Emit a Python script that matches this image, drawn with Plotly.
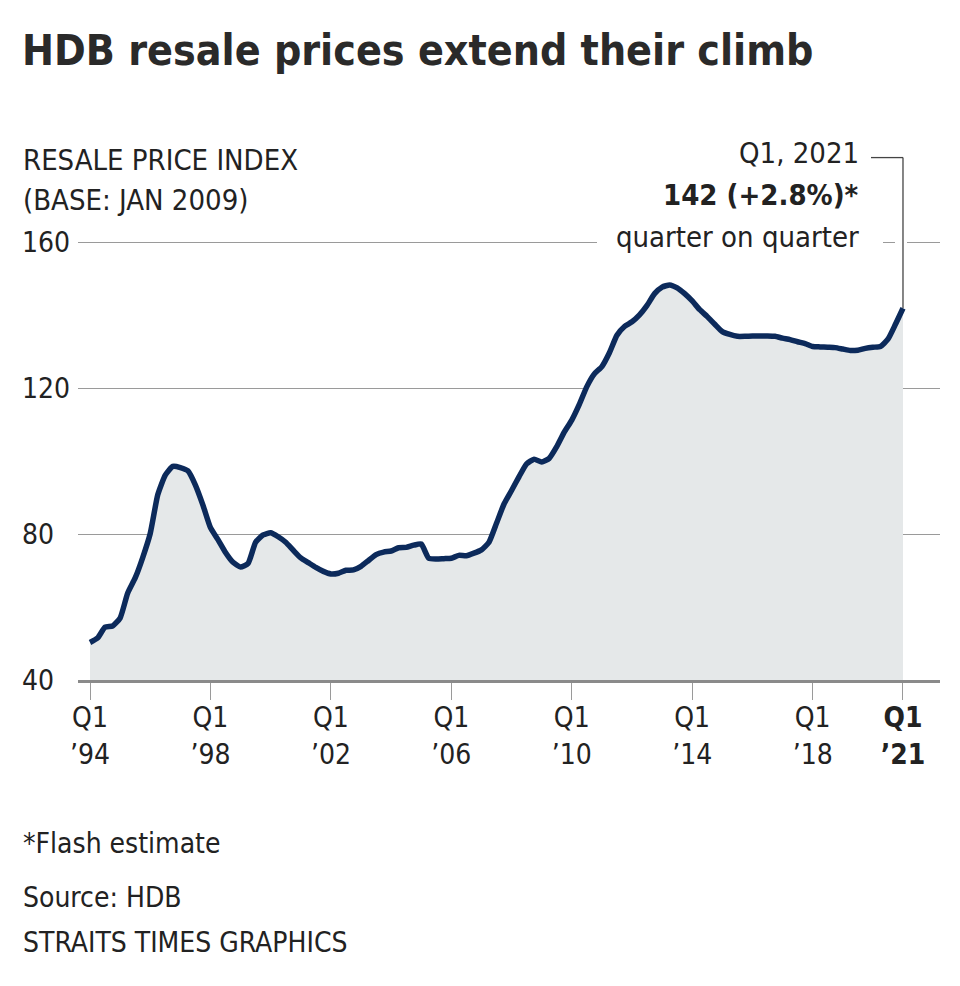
import plotly.graph_objects as go

# ---------------- data ----------------
start_year = 1994
index_values = [
    50.3, 51.5, 54.5, 54.8,      # 1994
    57.0, 63.8, 68.0, 73.6,      # 1995
    80.2, 90.8, 96.2, 98.6,      # 1996
    98.3, 97.4, 93.5, 88.0,      # 1997
    81.8, 78.5, 75.0, 72.3,      # 1998
    71.0, 72.0, 77.8, 79.8,      # 1999
    80.4, 79.3, 77.8, 75.6,      # 2000
    73.5, 72.2, 70.9, 69.8,      # 2001
    69.1, 69.3, 70.1, 70.2,      # 2002
    71.2, 72.8, 74.4, 75.1,      # 2003
    75.4, 76.3, 76.4, 77.0,      # 2004
    77.3, 73.4, 73.2, 73.3,      # 2005
    73.4, 74.2, 74.1, 74.8,      # 2006
    75.7, 77.8, 83.0, 88.3,      # 2007
    92.0, 95.8, 99.3, 100.6,     # 2008
    99.8, 100.8, 104.0, 108.0,   # 2009
    111.3, 115.6, 120.5, 124.0,  # 2010
    126.0, 129.8, 134.6, 137.0,  # 2011
    138.3, 140.2, 142.8, 146.0,  # 2012
    147.8, 148.4, 147.6, 146.0,  # 2013
    144.0, 141.6, 139.7, 137.6,  # 2014
    135.6, 134.8, 134.3, 134.3,  # 2015
    134.4, 134.4, 134.4, 134.3,  # 2016
    133.8, 133.4, 132.8, 132.3,  # 2017
    131.5, 131.4, 131.3, 131.2,  # 2018
    130.8, 130.4, 130.5, 131.0,  # 2019
    131.3, 131.5, 133.5, 137.6,  # 2020
    142.0,                       # 2021 Q1
]
quarters = [start_year + i * 0.25 for i in range(len(index_values))]

x_tick_vals = [1994, 1998, 2002, 2006, 2010, 2014, 2018, 2021]
x_tick_text = ["Q1<br>’94", "Q1<br>’98", "Q1<br>’02", "Q1<br>’06",
               "Q1<br>’10", "Q1<br>’14", "Q1<br>’18", "<b>Q1</b><br><b>’21</b>"]
y_tick_vals = [40, 80, 120, 160]
y_tick_text = ["40", "80", "120", "160"]

title_text = "HDB resale prices extend their climb"
subtitle_lines = ["RESALE PRICE INDEX", "(BASE: JAN 2009)"]
callout_lines = ["Q1, 2021", "<b>142 (+2.8%)*</b>", "quarter on quarter"]
footer_lines = ["*Flash estimate", "Source: HDB", "STRAITS TIMES GRAPHICS"]

# ---------------- layout geometry ----------------
W, H = 960, 986
Y_MIN, Y_MAX = 40, 161
PX_PER_UNIT = 3.6417
AXIS_PY = 680
L, R = 78, 20
PH = (Y_MAX - Y_MIN) * PX_PER_UNIT
T = AXIS_PY - PH
B = H - AXIS_PY
PW = W - L - R
X_MIN, X_MAX = 1993.601, 2022.229

FONT = "Liberation Sans Narrow, Arial Narrow, DejaVu Sans Condensed, sans-serif"
TXT = "#222222"
LINE = "#0c2a5b"
FILL = "#e5e8e9"
GRID = "#9a9a9a"


def xpaper(px):
    return (px - L) / PW


def ypaper(py):
    return (AXIS_PY - py) / PH


def xdata(px):
    return X_MIN + (px - L) / PW * (X_MAX - X_MIN)


fig = go.Figure()
fig.add_trace(go.Scatter(
    x=quarters, y=index_values, mode="lines",
    line=dict(color=LINE, width=5.5, shape="spline", smoothing=0.5),
    fill="tozeroy", fillcolor=FILL, hoverinfo="skip",
))

annotations = []
annotations.append(dict(text=title_text, xref="paper", yref="paper",
                        x=xpaper(20), y=ypaper(51), xanchor="left", yanchor="middle",
                        showarrow=False,
                        font=dict(family=FONT, size=42.5, color="#2a2a2a", weight="bold")))
for line, py in zip(subtitle_lines, [160, 200]):
    annotations.append(dict(text=line, xref="paper", yref="paper",
                            x=xpaper(21), y=ypaper(py), xanchor="left", yanchor="middle",
                            showarrow=False, font=dict(family=FONT, size=29, color=TXT)))
for v, t in zip(y_tick_vals, y_tick_text):
    annotations.append(dict(text=t, xref="paper", yref="y",
                            x=xpaper(20), y=v, xanchor="left", yanchor="middle",
                            showarrow=False, font=dict(family=FONT, size=28, color=TXT)))
for line, py in zip(callout_lines, [153, 195, 237]):
    annotations.append(dict(text=line, xref="paper", yref="paper",
                            x=xpaper(861), y=ypaper(py), xanchor="right", yanchor="middle",
                            showarrow=False, font=dict(family=FONT, size=29, color=TXT)))
for line, py in zip(footer_lines, [843, 897, 942]):
    annotations.append(dict(text=line, xref="paper", yref="paper",
                            x=xpaper(21), y=ypaper(py), xanchor="left", yanchor="middle",
                            showarrow=False, font=dict(family=FONT, size=28, color=TXT)))

last_x = quarters[-1]
last_y = index_values[-1]
shapes = [
    # breaks in the 160 gridline behind callout text and around the leader
    dict(type="line", xref="paper", yref="y", x0=xpaper(597), x1=xpaper(883),
         y0=160, y1=160, line=dict(color="white", width=4), layer="above"),
    dict(type="line", xref="paper", yref="y", x0=xpaper(895), x1=xpaper(907),
         y0=160, y1=160, line=dict(color="white", width=4), layer="above"),
    # leader: horizontal then vertical down to last point
    dict(type="line", xref="x", yref="paper", x0=xdata(871), x1=last_x,
         y0=ypaper(158), y1=ypaper(158), line=dict(color="#444444", width=1.3)),
    dict(type="line", xref="x", yref="paper", x0=last_x, x1=last_x,
         y0=ypaper(158), y1=(last_y - Y_MIN) / (Y_MAX - Y_MIN),
         line=dict(color="#444444", width=1.3)),
]

fig.update_layout(
    width=W, height=H,
    margin=dict(l=L, r=R, t=T, b=B, pad=0),
    plot_bgcolor="white", paper_bgcolor="white",
    showlegend=False,
    font=dict(family=FONT, size=28, color=TXT),
    annotations=annotations,
    shapes=shapes,
    xaxis=dict(range=[X_MIN, X_MAX], tickvals=x_tick_vals, ticktext=x_tick_text,
               showgrid=False, zeroline=False, showline=True, linecolor="#8a8a8a",
               linewidth=2.5, ticks="outside", ticklen=17, tickwidth=1,
               tickcolor="#9a9a9a", tickfont=dict(family=FONT, size=28, color=TXT),
               ticklabelstandoff=-6, fixedrange=True),
    yaxis=dict(range=[Y_MIN, Y_MAX], tickvals=y_tick_vals, showticklabels=False,
               showgrid=True, gridcolor=GRID, gridwidth=1, zeroline=False,
               showline=False, fixedrange=True),
)

fig.write_html("out.html", config={"displayModeBar": False},
               post_script="document.body.style.margin='0';")
